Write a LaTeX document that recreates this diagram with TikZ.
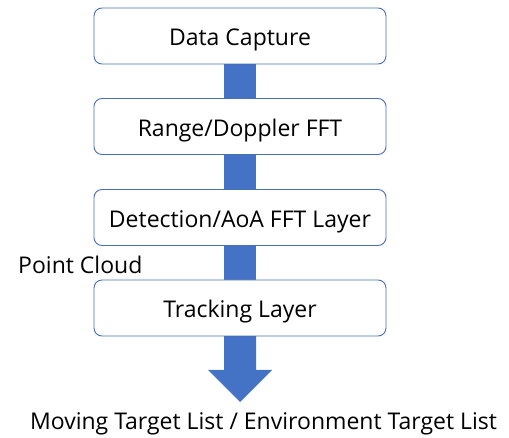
\documentclass[tikz,border=0pt]{standalone}
\usepackage{fontspec}
\setmainfont{Open Sans}
\definecolor{barblue}{HTML}{4472C4}
\definecolor{boxline}{HTML}{4A6FB5}
\begin{document}
\begin{tikzpicture}[x=1pt,y=-1pt,
  stagebox/.style={draw=boxline,line width=0.9pt,fill=white,rounded corners=8pt,
    minimum width=292pt,minimum height=56pt,inner sep=0pt,text height=22pt,text depth=2.6pt,
    font=\fontsize{23}{27}\selectfont},
  bar/.style={fill=barblue,draw=none}]
\useasboundingbox (0,0) rectangle (509,438);
% connectors (drawn first)
\coordinate (tip) at (240,402);
\fill[barblue] (224,64) rectangle (256,98);
\fill[barblue] (224,155) rectangle (256,190);
\fill[barblue] (224,245) rectangle (256,280);
\fill[barblue] (224,336) -- (256,336) -- (256,370) -- (272,370) -- (tip) -- (208,370) -- (224,370) -- cycle;
\node[stagebox] (a) at (240,36) {Data Capture};
\node[stagebox] (b) at (240,126.5) {Range/Doppler FFT};
\node[stagebox] (c) at (240,217.5) {Detection/AoA FFT Layer};
\node[stagebox] (d) at (240,308) {Tracking Layer};
\node[font=\fontsize{23}{27}\selectfont,anchor=west,inner sep=0pt] (pc) at (18,265) {Point Cloud};
\node[font=\fontsize{23}{27}\selectfont,inner sep=0pt] (out) at (263.5,424) {Moving Target List / Environment Target List};
\end{tikzpicture}
\end{document}
